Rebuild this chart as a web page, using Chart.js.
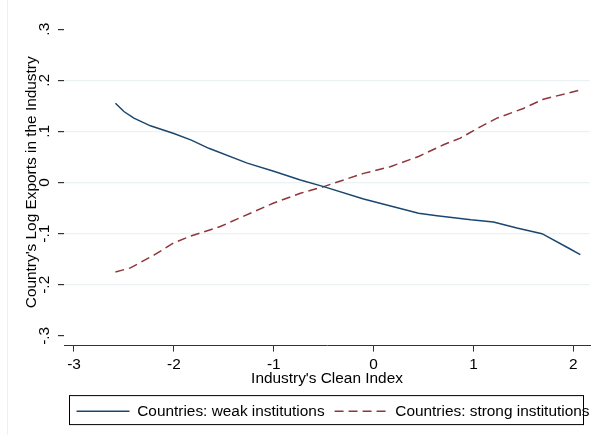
<!DOCTYPE html>
<html lang="en">
<head>
    <meta charset="UTF-8">
    <title>Industry's Clean Index and Country's Log Exports</title>
    <script src="https://cdn.jsdelivr.net/npm/chart.js"></script>
    <style>
        body {
            margin: 0;
            background-color: white;
        }

        #wrap {
            width: 592px;
            height: 435px;
        }
    </style>
</head>
<body>
    <div id="wrap">
        <canvas id="cleanGraph" width="592" height="435"></canvas>
    </div>

    <script>
        // weak institutions (solid line)
        const weakX = [-2.585, -2.5, -2.40, -2.235, -2.0, -1.825, -1.65, -1.265, -1.0, -0.733, -0.5, -0.1, 0.45, 0.635, 0.975, 1.2, 1.435, 1.686, 1.95, 2.07];
        const weakY = [0.155, 0.139, 0.126, 0.111, 0.096, 0.083, 0.067, 0.038, 0.022, 0.005, -0.008, -0.032, -0.060, -0.065, -0.073, -0.077, -0.089, -0.100, -0.128, -0.141];

        // strong institutions (dashed line)
        const strongX = [-2.585, -2.435, -2.2, -2.0, -1.835, -1.535, -1.0, -0.733, -0.5, -0.1, 0.167, 0.45, 0.7, 0.868, 1.068, 1.235, 1.5, 1.70, 2.07];
        const strongY = [-0.175, -0.167, -0.142, -0.118, -0.105, -0.086, -0.040, -0.021, -0.008, 0.018, 0.031, 0.051, 0.074, 0.087, 0.109, 0.126, 0.145, 0.163, 0.181];

        const xTicks = [-3, -2, -1, 0, 1, 2];
        const yTicks = [-0.3, -0.2, -0.1, 0, 0.1, 0.2, 0.3];
        const yTickLabels = ['-.3', '-.2', '-.1', '0', '.1', '.2', '.3'];

        const toPoints = (xs, ys) => xs.map((x, i) => ({ x: x, y: ys[i] }));

        Chart.defaults.font.family = "'Liberation Sans', Arial, sans-serif";
        Chart.defaults.font.size = 15.4;
        Chart.defaults.color = '#000';

        // box round the legend, like the stata one
        const legendFrame = {
            id: 'legendFrame',
            afterLayout(chart) {
                chart.legend.left += 38;
                chart.legend.right += 38;
            },
            beforeDraw(chart) {
                const c = chart.ctx;
                c.save();
                c.strokeStyle = '#f0f0f0';
                c.lineWidth = 1;
                c.beginPath();
                c.moveTo(7.5, 0);
                c.lineTo(7.5, 435);
                c.stroke();
                c.restore();
            },
            afterDraw(chart) {
                const c = chart.ctx;
                const area = chart.chartArea;
                const lg = chart.legend;
                c.save();
                c.strokeStyle = '#000';
                c.lineWidth = 1;
                c.strokeRect(area.left + 5.5, lg.top + 2, area.right - area.left - 12, 29);
                c.restore();
            }
        };

        const ctx = document.getElementById('cleanGraph').getContext('2d');

        new Chart(ctx, {
            type: 'line',
            data: {
                datasets: [{
                    label: 'Countries: weak institutions',
                    data: toPoints(weakX, weakY),
                    borderColor: '#1a476f',
                    backgroundColor: '#1a476f',
                    borderWidth: 1.5,
                    pointRadius: 0,
                    tension: 0
                }, {
                    label: 'Countries: strong institutions',
                    data: toPoints(strongX, strongY),
                    borderColor: '#90353b',
                    backgroundColor: '#90353b',
                    borderWidth: 1.5,
                    borderDash: [9, 5],
                    pointRadius: 0,
                    tension: 0
                }]
            },
            options: {
                responsive: false,
                animation: false,
                devicePixelRatio: 1,
                layout: {
                    padding: { left: 0, right: 2, top: 19, bottom: 6 }
                },
                scales: {
                    x: {
                        type: 'linear',
                        min: -3.1,
                        max: 2.167,
                        afterBuildTicks: s => { s.ticks = xTicks.map(v => ({ value: v })); },
                        afterFit: s => { s.height = 48; },
                        ticks: {
                            padding: 4,
                            maxRotation: 0,
                            callback: v => String(v)
                        },
                        grid: {
                            drawOnChartArea: false,
                            tickLength: 6,
                            tickColor: '#333'
                        },
                        border: { display: true, color: '#333', width: 1 },
                        title: {
                            display: true,
                            text: "Industry's Clean Index",
                            padding: { top: 0, bottom: 6 }
                        }
                    },
                    y: {
                        min: -0.319,
                        max: 0.32,
                        afterBuildTicks: s => { s.ticks = yTicks.map(v => ({ value: v })); },
                        afterFit: s => { s.width = 64; },
                        ticks: {
                            minRotation: 90,
                            maxRotation: 90,
                            crossAlign: 'center',
                            padding: 4,
                            callback: (v, i) => yTickLabels[i]
                        },
                        grid: {
                            color: c => (c.tick && Math.abs(c.tick.value) > 0.25) ? 'rgba(0,0,0,0)' : '#eaf2f3',
                            tickColor: '#333',
                            tickLength: 6,
                            lineWidth: 1.2
                        },
                        border: { display: false },
                        title: {
                            display: true,
                            text: "Country's Log Exports in the Industry",
                            padding: { top: 23, bottom: 0 }
                        }
                    }
                },
                plugins: {
                    legend: {
                        position: 'bottom',
                        labels: {
                            usePointStyle: true,
                            pointStyle: 'line',
                            pointStyleWidth: 53,
                            padding: 10,
                            color: '#000',
                            generateLabels: chart => {
                                const items = Chart.defaults.plugins.legend.labels.generateLabels(chart);
                                items.forEach((it, i) => {
                                    const ds = chart.data.datasets[i];
                                    it.lineDash = ds.borderDash || [];
                                    it.lineWidth = 1.5;
                                    it.strokeStyle = ds.borderColor;
                                });
                                return items;
                            }
                        }
                    },
                    tooltip: { enabled: false }
                }
            },
            plugins: [legendFrame]
        });
    </script>
</body>
</html>
